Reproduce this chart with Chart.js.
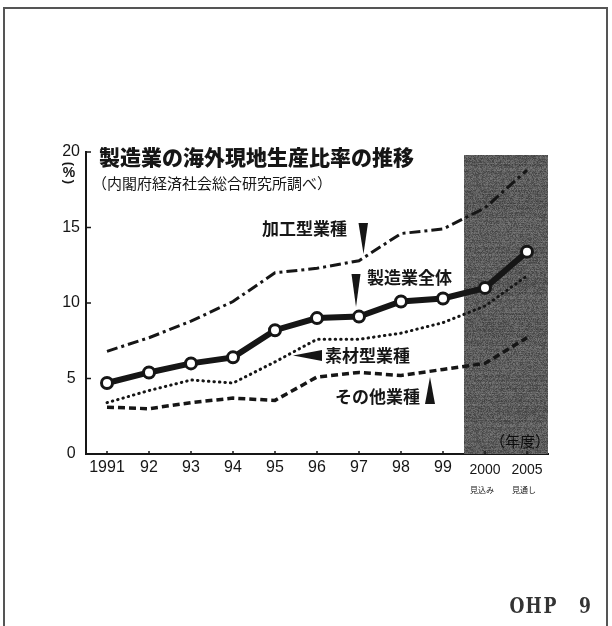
<!DOCTYPE html>
<html lang="ja">
<head>
<meta charset="utf-8">
<title>製造業の海外現地生産比率の推移</title>
<script src="https://cdn.jsdelivr.net/npm/chart.js@4.4.1/dist/chart.umd.min.js"></script>
<style>
  html, body { margin: 0; padding: 0; background: #ffffff; }
  canvas { display: block; }
</style>
</head>
<body>
<canvas id="chart" width="612" height="626"></canvas>
<script>
// 年度（2000年度は見込み、2005年度は見通し）
const years = ['1991', '92', '93', '94', '95', '96', '97', '98', '99', '2000', '2005'];
const yearNotes = ['', '', '', '', '', '', '', '', '', '見込み', '見通し'];

// 海外現地生産比率（%）
const manufacturingAll = [4.7, 5.4, 6.0, 6.4, 8.2, 9.0, 9.1, 10.1, 10.3, 11.0, 13.4];
const processingIndustries = [6.8, 7.7, 8.8, 10.1, 12.0, 12.3, 12.8, 14.6, 14.9, 16.3, 18.8];
const materialIndustries = [3.4, 4.2, 4.9, 4.7, 6.1, 7.6, 7.6, 8.0, 8.7, 9.8, 11.8];
const otherIndustries = [3.1, 3.0, 3.4, 3.7, 3.55, 5.1, 5.4, 5.2, 5.6, 6.0, 7.7];

// 縦軸の目盛
const yTickValues = [0, 5, 10, 15, 20];

// 見込み・見通しの年度（網掛け部分）の開始位置
const forecastStartIndex = 9;

const INK = '#161616';
const JP = '"Noto Sans CJK JP", "Noto Sans CJK SC", sans-serif';
const NUM = '"Liberation Sans", Arial, sans-serif';

function wedge(ctx, pts) {
  ctx.beginPath();
  ctx.moveTo(pts[0][0], pts[0][1]);
  for (let i = 1; i < pts.length; i++) ctx.lineTo(pts[i][0], pts[i][1]);
  ctx.closePath();
  ctx.fill();
}

// 網掛け用のざらついたトーン（決まった値のハッシュで作る）
function hash2(x, y) {
  let n = (Math.imul(x, 374761393) + Math.imul(y, 668265263)) | 0;
  n = Math.imul(n ^ (n >>> 13), 1274126177);
  n = n ^ (n >>> 16);
  return (n >>> 0) / 4294967296;
}
let screenTone = null;
function getScreenTone(ctx) {
  if (screenTone) return screenTone;
  const size = 128;
  const c = document.createElement('canvas');
  c.width = size; c.height = size;
  const g = c.getContext('2d');
  const img = g.createImageData(size, size);
  for (let y = 0; y < size; y++) {
    const row = (hash2(7, y) - 0.5) * 18;
    for (let x = 0; x < size; x++) {
      const v = Math.max(35, Math.min(145, 92 + row + (hash2(x, y) - 0.5) * 46));
      const k = (y * size + x) * 4;
      img.data[k] = v; img.data[k + 1] = v; img.data[k + 2] = v; img.data[k + 3] = 255;
    }
  }
  g.putImageData(img, 0, 0);
  screenTone = ctx.createPattern(c, 'repeat');
  return screenTone;
}

const decorations = {
  id: 'decorations',
  beforeDraw(chart) {
    const ctx = chart.ctx;
    ctx.save();
    ctx.fillStyle = '#ffffff';
    ctx.fillRect(0, 0, chart.width, chart.height);
    ctx.restore();
  },
  beforeDatasetsDraw(chart) {
    const ctx = chart.ctx;
    const xs = chart.scales.x, ys = chart.scales.y;
    const area = chart.chartArea;
    // 網掛け（見込み・見通し）
    const x0 = (xs.getPixelForValue(forecastStartIndex - 1) + xs.getPixelForValue(forecastStartIndex)) / 2;
    const yTop = ys.getPixelForValue(19.8);
    ctx.save();
    ctx.fillStyle = getScreenTone(ctx);
    ctx.fillRect(x0, yTop, area.right - x0, area.bottom - yTop);
    ctx.restore();

    // 目盛線（内向き）
    ctx.save();
    ctx.strokeStyle = INK;
    ctx.lineWidth = 1.5;
    yTickValues.forEach(v => {
      if (v === 0) return;
      const y = ys.getPixelForValue(v);
      ctx.beginPath();
      ctx.moveTo(area.left, y);
      ctx.lineTo(area.left + 5, y);
      ctx.stroke();
    });
    years.forEach((_, i) => {
      const x = xs.getPixelForValue(i);
      ctx.beginPath();
      ctx.moveTo(x, area.bottom);
      ctx.lineTo(x, area.bottom - 3);
      ctx.stroke();
    });
    ctx.restore();
  },
  afterDraw(chart) {
    const ctx = chart.ctx;
    const xs = chart.scales.x;
    ctx.save();
    ctx.fillStyle = INK;
    ctx.textBaseline = 'middle';

    // 表題
    ctx.textAlign = 'left';
    ctx.font = '900 21px ' + JP;
    ctx.fillText('製造業の海外現地生産比率の推移', 99, 157);
    ctx.font = '15px ' + JP;
    ctx.fillText('（内閣府経済社会総合研究所調べ）', 92, 183);

    // 単位（縦書きの括弧）
    ctx.textAlign = 'center';
    ctx.font = 'bold 13px ' + NUM;
    [['(', 164], [')', 182]].forEach(([ch, y]) => {
      ctx.save();
      ctx.translate(69, y);
      ctx.rotate(Math.PI / 2);
      ctx.fillText(ch, 0, 0);
      ctx.restore();
    });
    ctx.font = 'bold 14px ' + NUM;
    ctx.fillText('%', 69, 173);

    // 系列名
    ctx.textAlign = 'left';
    ctx.font = 'bold 17px ' + JP;
    ctx.fillText('加工型業種', 262, 229);
    ctx.fillText('製造業全体', 367, 278);
    ctx.fillText('素材型業種', 325, 356);
    ctx.fillText('その他業種', 335, 397);

    // 引き出しの矢印
    wedge(ctx, [[358.5, 223], [368, 223], [363.5, 254]]);
    wedge(ctx, [[351.5, 274], [360.5, 274], [356, 307]]);
    wedge(ctx, [[293, 355.5], [322, 350], [322, 361]]);
    wedge(ctx, [[430, 377], [425, 404], [435, 404]]);

    // 年度の注記
    ctx.fillStyle = '#0c0c0c';
    ctx.textAlign = 'right';
    ctx.font = '15px ' + JP;
    ctx.fillText('（年度）', 550, 441);
    ctx.fillStyle = INK;
    ctx.textAlign = 'center';
    ctx.font = '8px ' + JP;
    yearNotes.forEach((note, i) => {
      if (note) ctx.fillText(note, xs.getPixelForValue(i) - 3, 490);
    });

    // ページ番号（タイプ文字風に一字ずつ）
    ctx.fillStyle = '#333333';
    ctx.font = 'bold 22px "DejaVu Serif", "Liberation Serif", serif';
    [['O', 517], ['H', 533.5], ['P', 550], ['9', 585]].forEach(([ch, x]) => {
      ctx.save();
      ctx.translate(x, 607);
      ctx.scale(0.78, 1);
      ctx.fillText(ch, 0, 0);
      ctx.restore();
    });

    // 外枠
    ctx.strokeStyle = '#555555';
    ctx.lineWidth = 2;
    ctx.strokeRect(4, 8, 603, 640);
    ctx.restore();
  }
};

new Chart(document.getElementById('chart'), {
  type: 'line',
  data: {
    labels: years,
    datasets: [
      {
        label: '製造業全体',
        data: manufacturingAll,
        borderColor: INK,
        borderWidth: 6,
        pointRadius: 5.5,
        pointBorderWidth: 3,
        pointBackgroundColor: '#ffffff',
        pointBorderColor: INK,
        tension: 0
      },
      {
        label: '加工型業種',
        data: processingIndustries,
        borderColor: INK,
        borderWidth: 3,
        borderDash: [11, 4, 3, 4],
        pointRadius: 0,
        tension: 0
      },
      {
        label: '素材型業種',
        data: materialIndustries,
        borderColor: INK,
        borderWidth: 3,
        borderDash: [0.5, 5],
        borderCapStyle: 'round',
        pointRadius: 0,
        tension: 0
      },
      {
        label: 'その他業種',
        data: otherIndustries,
        borderColor: INK,
        borderWidth: 3.5,
        borderDash: [7, 4],
        pointRadius: 0,
        tension: 0
      }
    ]
  },
  options: {
    responsive: false,
    animation: false,
    devicePixelRatio: 1,
    layout: { padding: { left: 0, right: 64, top: 152, bottom: 132 } },
    plugins: {
      legend: { display: false },
      tooltip: { enabled: false }
    },
    scales: {
      x: {
        offset: true,
        grid: { display: false, drawTicks: false },
        border: { display: true, color: INK, width: 2 },
        ticks: {
          color: INK,
          padding: 4,
          maxRotation: 0,
          autoSkip: false,
          font: ctx => (ctx.index >= forecastStartIndex
            ? { family: NUM, size: 14, lineHeight: 1.71 }
            : { family: NUM, size: 16, lineHeight: 1.2 })
        },
        afterFit: s => { s.height = 40; }
      },
      y: {
        min: 0,
        max: 20,
        grid: { display: false, drawTicks: false },
        border: { display: true, color: INK, width: 2 },
        afterBuildTicks: s => { s.ticks = yTickValues.map(v => ({ value: v })); },
        ticks: {
          color: INK,
          padding: 6,
          crossAlign: 'center',
          font: { family: NUM, size: 16 }
        },
        afterFit: s => { s.width = 86; }
      }
    }
  },
  plugins: [decorations]
});
</script>
</body>
</html>
